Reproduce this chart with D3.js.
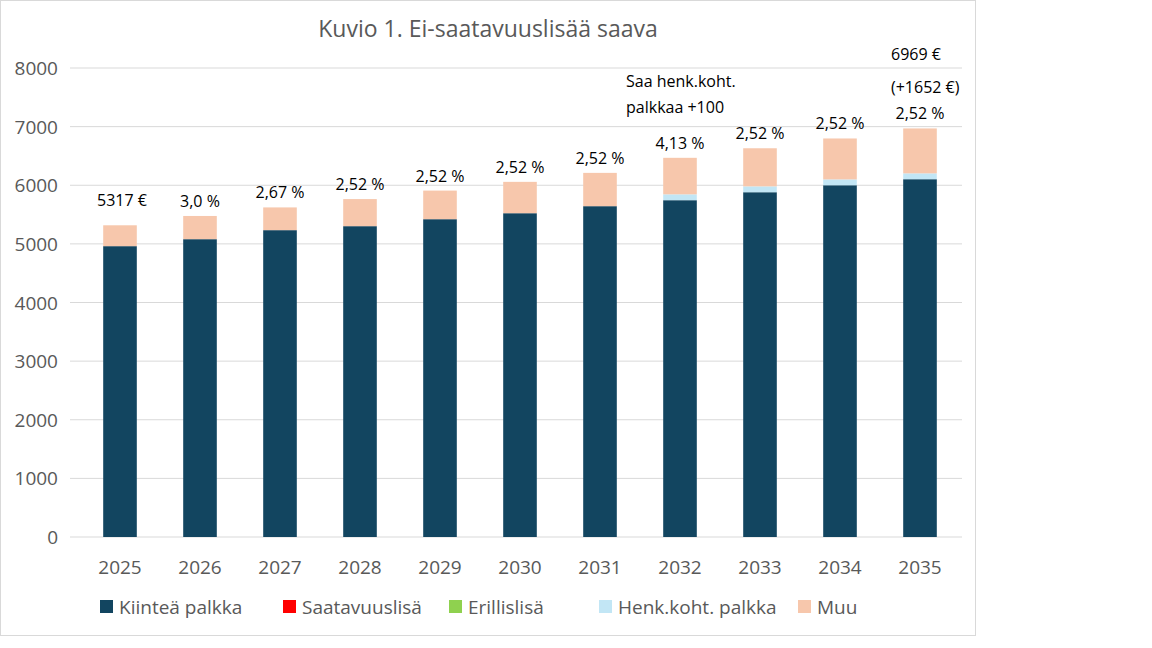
<!DOCTYPE html>
<html><head><meta charset="utf-8">
<script src="https://cdn.jsdelivr.net/npm/d3@7"></script>
<style>body{margin:0;background:#fff;font-family:"Open Sans",Roboto,sans-serif}</style>
</head><body><svg id="c" width="1152" height="648"></svg>
<script>
const years = ["2025","2026","2027","2028","2029","2030","2031","2032","2033","2034","2035"];
const kiintea = [4961,5080,5234,5302,5421,5523,5643,5745,5881,6000,6103];
const saatavuus = [0,0,0,0,0,0,0,0,0,0,0];
const erillis = [0,0,0,0,0,0,0,0,0,0,0];
const henk = [0,0,0,0,0,0,0,100,100,100,100];
const totals = [5317,5476,5622,5764,5909,6058,6211,6468,6631,6798,6969];
const muu = totals.map((t,i)=>t-kiintea[i]-saatavuus[i]-erillis[i]-henk[i]);
const topLabels = ["5317 €","3,0 %","2,67 %","2,52 %","2,52 %","2,52 %","2,52 %","4,13 %","2,52 %","2,52 %","2,52 %"];
const series = [
  {name:"Kiinteä palkka", vals:kiintea, color:"#124560"},
  {name:"Saatavuuslisä", vals:saatavuus, color:"#ff0000"},
  {name:"Erillislisä", vals:erillis, color:"#8fd14f"},
  {name:"Henk.koht. palkka", vals:henk, color:"#c2e6f5"},
  {name:"Muu", vals:muu, color:"#f7c7ac"}
];
const svg = d3.select("#c");
svg.append("rect").attr("x",0.5).attr("y",0.5).attr("width",975).attr("height",635)
  .attr("fill","#fff").attr("stroke","#d9d9d9");
const x = d3.scaleBand().domain(years).range([80,960]).paddingInner(0.58).paddingOuter(0.29);
const y = d3.scaleLinear().domain([0,8000]).range([537,68]);
svg.append("g").selectAll("line").data(y.ticks(8)).join("line")
  .attr("x1",70).attr("x2",962).attr("y1",d=>y(d)).attr("y2",d=>y(d))
  .attr("stroke","#d9d9d9");
svg.append("g").selectAll("text").data(y.ticks(8)).join("text")
  .attr("x",58).attr("y",d=>y(d)+7).attr("text-anchor","end")
  .attr("font-size",19).attr("fill","#595959").text(d=>d);
const stack = d3.stack().keys(series.map((s,i)=>i)).value((d,k)=>series[k].vals[d]);
const layers = stack(years.map((_,i)=>i));
layers.forEach((L,k)=>{
  svg.append("g").selectAll("rect").data(L).join("rect")
    .attr("x",(d,i)=>x(years[i])).attr("width",x.bandwidth())
    .attr("y",d=>y(d[1])).attr("height",d=>y(d[0])-y(d[1]))
    .attr("fill",series[k].color);
});
svg.append("g").selectAll("text").data(years).join("text")
  .attr("x",d=>x(d)+x.bandwidth()/2).attr("y",574).attr("text-anchor","middle")
  .attr("font-size",19).attr("fill","#595959").text(d=>d);
svg.append("g").selectAll("text").data(topLabels).join("text")
  .attr("x",(d,i)=>x(years[i])+x.bandwidth()/2 + (i===0?2:0))
  .attr("y",(d,i)=>y(totals[i])-(i===0?19:9)).attr("text-anchor","middle")
  .attr("font-size",16).attr("fill","#000").text(d=>d);
const ann = (t,xx,yy)=>svg.append("text").attr("x",xx).attr("y",yy).attr("font-size",16).attr("fill","#000").text(t);
ann("Saa henk.koht.",626,87); ann("palkkaa +100",626,113);
ann("6969 €",891,60); ann("(+1652 €)",891,93);
svg.append("text").attr("x",488).attr("y",37).attr("text-anchor","middle")
  .attr("font-size",23).attr("fill","#595959").text("Kuvio 1. Ei-saatavuuslisää saava");
const lx=[100,283,449,599,798];
series.forEach((s,i)=>{
  svg.append("rect").attr("x",lx[i]).attr("y",600).attr("width",13).attr("height",13).attr("fill",s.color);
  svg.append("text").attr("x",lx[i]+19).attr("y",614).attr("font-size",19).attr("fill","#595959").text(s.name);
});
</script></body></html>
